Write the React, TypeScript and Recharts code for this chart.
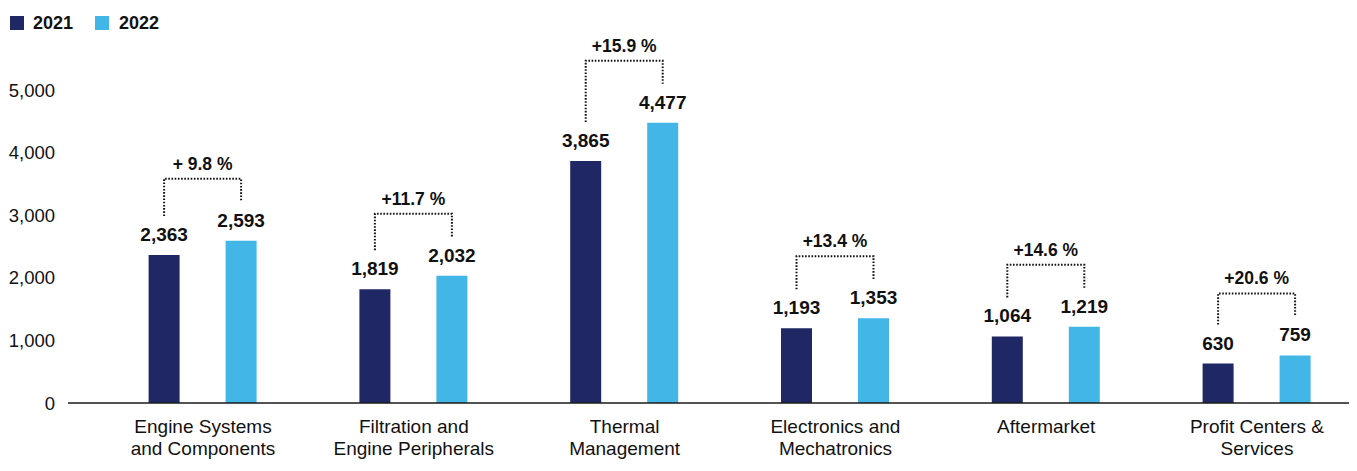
import { BarChart, Bar, XAxis, YAxis, LabelList } from "recharts";

const FONT = "'Liberation Sans', Arial, Helvetica, sans-serif";
const NAVY = "#1f2864";
const SKY = "#42b6e6";

const categories = [
  "Engine Systems\nand Components",
  "Filtration and\nEngine Peripherals",
  "Thermal\nManagement",
  "Electronics and\nMechatronics",
  "Aftermarket",
  "Profit Centers &\nServices",
];
const sales2021 = [2363, 1819, 3865, 1193, 1064, 630];
const sales2022 = [2593, 2032, 4477, 1353, 1219, 759];
const growthLabels = ["+ 9.8 %", "+11.7 %", "+15.9 %", "+13.4 %", "+14.6 %", "+20.6 %"];
const yTicks = [0, 1000, 2000, 3000, 4000, 5000];

const BAR_SIZE = 31;
const BAR_GAP = 46;

const data = categories.map((name, i) => ({
  name,
  y2021: sales2021[i],
  y2022: sales2022[i],
}));

const fmt = (v: number) => v.toLocaleString("en-US");

// eslint-disable-next-line @typescript-eslint/no-explicit-any
function CategoryTick({ x, y, payload }: any) {
  const lines = String(payload.value).split("\n");
  return (
    <text x={x} y={y + 22} textAnchor="middle" fill="#111" fontSize={19} fontFamily={FONT}>
      {lines.map((l, i) => (
        <tspan key={i} x={x} dy={i === 0 ? 0 : 22}>{l}</tspan>
      ))}
    </text>
  );
}

// eslint-disable-next-line @typescript-eslint/no-explicit-any
function geom(props: any) {
  const vb = props.viewBox ?? {};
  return {
    x: Number(props.x ?? vb.x),
    y: Number(props.y ?? vb.y),
    width: Number(props.width ?? vb.width),
    height: Number(props.height ?? vb.height),
  };
}

// eslint-disable-next-line @typescript-eslint/no-explicit-any
function ValueLabel(props: any) {
  const { x, y, width } = geom(props);
  return (
    <text x={x + width / 2} y={y - 14} textAnchor="middle" fill="#111" fontSize={19} fontWeight={700} fontFamily={FONT}>
      {fmt(Number(props.value))}
    </text>
  );
}

// value label for 2022 plus the dotted growth bracket spanning both bars
// eslint-disable-next-line @typescript-eslint/no-explicit-any
function GrowthLabel(props: any) {
  const { x, y, width, height } = geom(props);
  const i = props.index as number;
  const base = y + height;
  const rightX = x + width / 2;
  const leftX = rightX - (BAR_SIZE + BAR_GAP);
  const leftTop = base - (sales2021[i] / sales2022[i]) * height;
  const bridgeY = y - 62;
  const dots = { stroke: "#111", strokeWidth: 2, strokeDasharray: "1.6 1.6", fill: "none" };
  return (
    <g>
      <text x={rightX} y={y - 14} textAnchor="middle" fill="#111" fontSize={19} fontWeight={700} fontFamily={FONT}>
        {fmt(Number(props.value))}
      </text>
      <polyline points={`${leftX},${leftTop - 39} ${leftX},${bridgeY} ${rightX},${bridgeY} ${rightX},${y - 39}`} {...dots} />
      <text x={(leftX + rightX) / 2} y={bridgeY - 9} textAnchor="middle" fill="#111" fontSize={17.5} fontWeight={700} fontFamily={FONT}>
        {growthLabels[i]}
      </text>
    </g>
  );
}

function LegendBox() {
  const item = (color: string, label: string, left: number, textLeft: number) => (
    <>
      <div style={{ position: "absolute", left, top: 8, width: 14, height: 14, background: color }} />
      <div style={{ position: "absolute", left: textLeft, top: 4, fontSize: 18, fontWeight: 700, lineHeight: "22px", color: "#111", fontFamily: FONT }}>
        {label}
      </div>
    </>
  );
  return (
    <div style={{ position: "absolute", left: 0, top: 0 }}>
      {item(NAVY, "2021", 2, 25)}
      {item(SKY, "2022", 87, 111)}
    </div>
  );
}

export default function App() {
  return (
    <div style={{ position: "relative", width: 1349, height: 463, overflow: "hidden" }}>
      <LegendBox />
      <BarChart
        width={1360}
        height={463}
        data={data}
        margin={{ top: 82, right: 0, left: 0, bottom: 0 }}
        barSize={BAR_SIZE}
        barGap={BAR_GAP}
      >
        <XAxis
          dataKey="name"
          interval={0}
          height={68}
          padding={{ left: 29.6, right: 5.6 }}
          axisLine={{ stroke: "#1a1a1a", strokeWidth: 1.6 }}
          tickLine={false}
          tick={<CategoryTick />}
        />
        <YAxis
          width={60}
          domain={[0, 5000]}
          ticks={yTicks}
          axisLine={false}
          tickLine={false}
          tickSize={0}
          tickMargin={13}
          tickFormatter={fmt}
          tick={{ fill: "#111", fontSize: 18.5, fontFamily: FONT }}
        />
        <Bar dataKey="y2021" fill={NAVY} isAnimationActive={false}>
          <LabelList dataKey="y2021" content={<ValueLabel />} />
        </Bar>
        <Bar dataKey="y2022" fill={SKY} isAnimationActive={false}>
          <LabelList dataKey="y2022" content={<GrowthLabel />} />
        </Bar>
      </BarChart>
    </div>
  );
}
